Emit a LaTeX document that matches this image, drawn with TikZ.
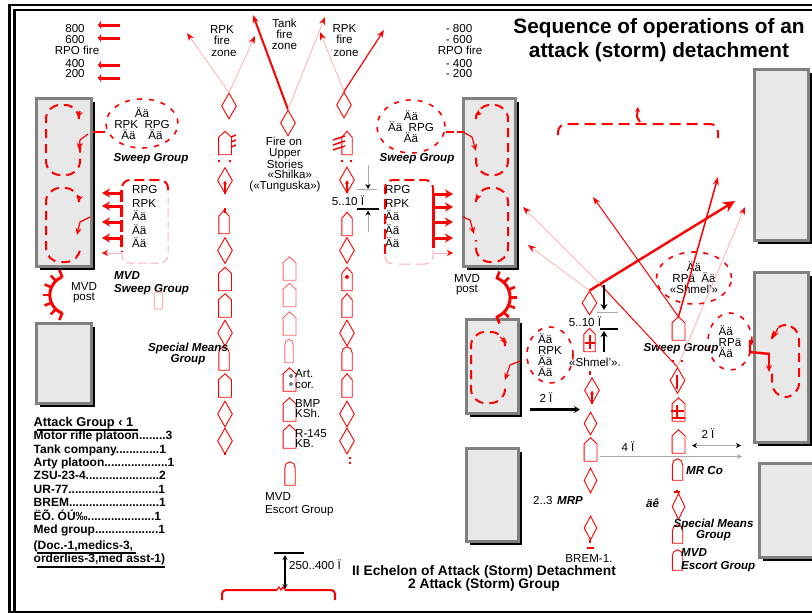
\documentclass[tikz,border=0pt]{standalone}
\usepackage{fontspec}
\setmainfont{Liberation Sans}
\usepackage{xcolor}
\usetikzlibrary{arrows.meta,shapes.geometric,positioning,shadows}
\definecolor{BldGray}{RGB}{232,232,232}
\definecolor{BldEdge}{RGB}{128,128,128}
\definecolor{PaleRed}{RGB}{255,176,176}
\definecolor{DimGray}{RGB}{170,170,170}
\begin{document}
\begin{tikzpicture}[x=1pt,y=-1pt,
    bld/.style={draw=BldEdge,fill=BldGray,line width=3pt,inner sep=0pt,
                drop shadow={fill=black,opacity=1,shadow xshift=3.5pt,shadow yshift=-3.5pt}},
    dmd/.style={diamond,draw=red,line width=0.9pt,inner sep=0pt,shape aspect=0.55,
                minimum width=15pt,minimum height=26pt},
    veh/.default=red,
    veh/.style={rectangle,inner sep=0pt,minimum width=12.5pt,minimum height=23pt,
                append after command={\pgfextra{\draw[draw=#1,line width=0.9pt,line join=miter]
                  (\tikzlastnode.south west) -- ([yshift=-6pt]\tikzlastnode.north west)
                  -- (\tikzlastnode.north) -- ([yshift=-6pt]\tikzlastnode.north east)
                  -- (\tikzlastnode.south east) -- cycle;}}},
    blunt/.default=red,
    blunt/.style={rectangle,inner sep=0pt,minimum width=10pt,minimum height=23pt,
                append after command={\pgfextra{\draw[draw=#1,line width=0.9pt]
                  (\tikzlastnode.south west) -- ([yshift=-6pt]\tikzlastnode.north west)
                  to[out=90,in=180] (\tikzlastnode.north) to[out=0,in=90] ([yshift=-6pt]\tikzlastnode.north east)
                  -- (\tikzlastnode.south east) -- cycle;}}},
    ovl/.style={ellipse,draw=red,line width=1.6pt,dash pattern=on 5pt off 7pt,inner sep=-4pt,align=center,
                font=\fontsize{11.6}{10.8}\selectfont},
    lbl/.style={font=\fontsize{11.6}{10.5}\selectfont,inner sep=0pt,align=center},
    lst/.style={lbl,align=left,anchor=west,font=\fontsize{12}{11}\selectfont\bfseries},
    grp/.style={lbl,font=\fontsize{11.6}{10.5}\selectfont\bfseries\itshape},
    lop/.style={draw=red,line width=2pt,dash pattern=on 9pt off 6pt,rounded corners=14pt},
    tip/.style={-{Stealth[length=7pt,width=6pt]},red,line width=1.2pt},
    tarr/.style={-{Latex[length=3pt,width=9pt]},red,line width=3pt},
    farr/.style={-{Stealth[length=8pt,width=9pt]},red,line width=3pt},
    fire/.style={-{Stealth[length=8pt,width=6pt]},red,line width=0.8pt},
    pfire/.style={-{Stealth[length=8pt,width=6pt,red]},PaleRed,line width=0.8pt},
    dim/.style={{Stealth[length=5pt,width=5pt,black]}-{Stealth[length=5pt,width=5pt,black]},DimGray,line width=0.8pt},
    bar/.style={black,line width=2.6pt},
    blk/.style={-{Stealth[length=6pt,width=7pt]},black,line width=2.4pt}
  ]
  \useasboundingbox (0,0) rectangle (812,613);
  % frame
  \draw[line width=2.2pt] (9.5,5) rectangle (840,612);
  \draw[line width=2.2pt] (14.5,10) rectangle (840,612);
  % buildings
  \node[bld,minimum width=55pt,minimum height=168pt] (bldA) at (64,182.5) {};
  \node[bld,minimum width=55pt,minimum height=80pt] (bldB) at (64,363.5) {};
  \node[bld,minimum width=52pt,minimum height=168pt] (bldC) at (489.5,182.5) {};
  \node[bld,minimum width=52pt,minimum height=94pt] (bldD) at (492.5,366.5) {};
  \node[bld,minimum width=52pt,minimum height=93pt] (bldE) at (492.5,495) {};
  \node[bld,minimum width=54pt,minimum height=171pt] (bldF) at (781.5,155) {};
  \node[bld,minimum width=54pt,minimum height=170pt] (bldG) at (781.5,357.5) {};
  \node[bld,minimum width=54pt,minimum height=94pt] (bldH) at (786.5,510.5) {};
  % title
  \node[font=\fontsize{20.8}{24}\selectfont\bfseries,align=center,inner sep=0pt] (title) at (659,40)
    {Sequence of operations of an\\attack (storm) detachment};
  % loops in the buildings
  \draw[lop] (79,118) -- (79,105) -- (46,105) -- (46,175) -- (80,175) -- (80,140);
  \draw[lop] (79,200) -- (79,188) -- (46,188) -- (46,262) -- (80,262) -- (80,245);
  \draw[lop] (476,116) -- (476,105) -- (508,105) -- (508,175) -- (476,175) -- (476,155);
  \draw[lop] (476,200) -- (476,188) -- (508,188) -- (508,262) -- (476,262) -- (476,240);
  \draw[lop] (505,345) -- (505,332) -- (471,332) -- (471,403) -- (505,403) -- (505,385);
  \draw[lop] (772,338) -- (772,325) -- (799,325) -- (799,397) -- (772,397) -- (772,372);
  \draw[tip] (80,111) -- (78,118);
  \draw[tip] (88,134) -- (80,140) -- (79,150);
  \draw[tip] (80,196) -- (78,202);
  \draw[tip] (90,217) -- (80,222) -- (77,235);
  \draw[tip] (480,112) -- (475,116);
  \draw[tip] (478,196) -- (476,201);
  \draw[tip] (463,217) -- (470,220) -- (474,234);
  \draw[tip] (500,337) -- (507,343);
  \draw[tip] (520,361) -- (510,365) -- (505,380);
  \draw[tip] (778,328) -- (773,338);
  \draw[tip] (769,355) -- (769,372);
  % sweep groups
  \node[ovl,minimum width=72pt,minimum height=49pt] (swpA) at (142,123.5) {Ää\\RPK\ \ RPG\\Ää\ \ \ \ Ää};
  \node[ovl,minimum width=68pt,minimum height=53pt] (swpB) at (411,126.5) {Ää\\Ää\ \ RPG\\Ää};
  \node[ovl,minimum width=46pt,minimum height=56pt,align=left] (swpC) at (550,355) {Ää\\RPK\\Ää\\Ää};
  \node[ovl,minimum width=75pt,minimum height=52pt] (swpD) at (694,278) {Ää\\RPä\ \ Ää\\«Shmel’»};
  \node[ovl,minimum width=44pt,minimum height=57pt,align=left] (swpE) at (730,341.5) {Ää\\RPä\\Ää};
  \draw[red,line width=2pt] (swpA.west |- 0,132) -- (bldA.east |- 0,132);
  \draw[red,line width=2pt,dash pattern=on 8pt off 3pt] (swpB.east |- 0,132) -- (463,132);
  \draw[tip] (463,132) -- (472,137) -- (476,151);
  \draw[red,line width=2.4pt] (750,340) -- (750,352) -- (770,354);
  % RPG boxes
  \node[lbl,align=left,anchor=north west,font=\fontsize{11.6}{13.5}\selectfont] (rpgA) at (132,185.5) {RPG\\RPK\\Ää\\Ää\\Ää};
  \node[lbl,align=left,anchor=north west,font=\fontsize{11.6}{13.5}\selectfont] (rpgB) at (385,185.5) {RPG\\RPK\\Ää\\Ää\\Ää};
  \draw[draw=red,line width=2pt,dash pattern=on 10pt off 5pt,rounded corners=8pt] (168,190) -- (168,180) -- (122,180) -- (122,252);
  \draw[draw=PaleRed,line width=1pt,dash pattern=on 8pt off 4pt,rounded corners=8pt] (122,252) -- (122,263) -- (168,263) -- (168,190);
  \draw[draw=red,line width=2pt,dash pattern=on 10pt off 5pt,rounded corners=8pt] (433,195) -- (433,180) -- (385,180) -- (385,256);
  \draw[draw=PaleRed,line width=1pt,dash pattern=on 12pt off 6pt,rounded corners=8pt] (385,256) -- (385,264) -- (433,264) -- (433,250);
  \draw[red,line width=3pt] (433,193) -- (433,248);
  \draw[red,line width=3pt,dash pattern=on 12pt off 3pt] (121,190) -- (121,250);
  \foreach \yy in {193,206,222,238} {\draw[farr] (121,\yy) -- (102,\yy);}
  \foreach \yy in {194,207,222,238} {\draw[farr] (433,\yy) -- (453,\yy);}
  \draw[-{Stealth[length=6pt,width=6pt,red]},PaleRed,line width=0.8pt] (121,253) -- (102,253);
  \draw[-{Stealth[length=6pt,width=6pt,red]},PaleRed,line width=0.8pt] (433,253) -- (453,253);
  % range marks
  \foreach \yy in {25,38,65,78} {\draw[tarr] (120,\yy) -- (98,\yy);}
  \node[lbl] (rngA) at (75,34) {800\\600};
  \node[lbl] (rngC) at (77,50.5) {RPO fire};
  \node[lbl] (rngD) at (75,68.5) {400\\200};
  \node[lbl] (rngF) at (459,34) {- 800\\- 600};
  \node[lbl] (rngH) at (460,50.5) {RPO fire};
  \node[lbl] (rngI) at (459,68.5) {- 400\\- 200};
  % first column
  \node[dmd] (ca) at (229,106) {};
  \node[veh] (cb) at (225,143) {};
  \node[dmd] (cc) at (225,180.5) {};
  \node[veh,minimum width=10pt] (cd) at (224,222) {};
  \node[dmd] (ce) at (225,250.5) {};
  \node[veh] (cf) at (225,279) {};
  \node[veh] (cg) at (225,305.5) {};
  \node[dmd] (ch) at (225,333) {};
  \node[blunt] (ci) at (224,358.5) {};
  \node[veh] (cj) at (225,385.5) {};
  \node[dmd] (ck) at (225,414) {};
  \node[dmd] (cl) at (225,441) {};
  \draw[red,line width=1.5pt] (231,137) -- (236,135) (231,142) -- (236,140) (231,147) -- (236,145);
  \draw[-{Stealth[length=4pt,width=4pt]},red,line width=2pt] (cc.south) -- (cc.center);
  \draw[red,line width=2pt] (219,160) -- (219,162) (230,160) -- (230,162) (225,208) -- (225,213) (225,452) -- (225,455);
  % middle column
  \node[dmd] (ma) at (288,123) {};
  \node[veh=red!60] (mb) at (289.5,268.5) {};
  \node[veh=red!60] (mc) at (289.5,295) {};
  \node[veh=red!60] (md) at (289.5,323.5) {};
  \node[blunt=red!60,minimum width=8pt] (me) at (289,351) {};
  \node[veh] (mf) at (289.5,379.5) {};
  \node[veh] (mg) at (289.5,409.5) {};
  \node[veh] (mh) at (289.5,436.5) {};
  \node[blunt] (mi) at (290,473.5) {};
  \draw[black,thin] (291,376) circle (1.5) (291,384) circle (1.5);
  % third column
  \node[dmd] (ra) at (344,105) {};
  \node[veh,minimum width=10pt] (rb) at (347,143) {};
  \node[dmd] (rc) at (347,180) {};
  \node[veh,minimum width=10pt] (rd) at (347,224) {};
  \node[dmd] (re) at (347,250.5) {};
  \node[veh,minimum width=10pt] (rf) at (347,279) {};
  \node[veh,minimum width=10pt] (rg) at (347,305.5) {};
  \node[dmd] (rh) at (347,333) {};
  \node[blunt] (ri) at (347,358.5) {};
  \node[veh,minimum width=10pt] (rj) at (347,385.5) {};
  \node[dmd] (rk) at (347,414) {};
  \node[dmd] (rl) at (347,441) {};
  \draw[red,line width=1.5pt] (333,140) -- (345,136) (333,145) -- (345,141) (333,150) -- (345,146);
  \draw[-{Stealth[length=4pt,width=4pt]},red,line width=2pt] (rc.south) -- (rc.center);
  \draw[red,line width=2pt] (342,160) -- (342,162) (351,160) -- (351,162) (350,457) -- (350,459) (350,462) -- (350,464);
  \fill[red] (347,277) circle (2);
  % fire zones
  \draw[pfire] (ca.north) -- (187,33);
  \draw[pfire] (ca.north) -- (255,36);
  \draw[fire,line width=2pt] (ma.north) -- (253,15);
  \draw[pfire] (ma.north) -- (325,17);
  \draw[pfire] (ra.north) -- (320,32);
  \draw[fire,line width=1.2pt] (ra.north) -- (384,30);
  \node[lbl] (fza) at (222,35) {RPK\\fire};
  \node[lbl] (fzc) at (224,53) {zone};
  \node[lbl,font=\fontsize{11.6}{11}\selectfont] (fzd) at (284.5,34) {Tank\\fire\\zone};
  \node[lbl] (fzg) at (344.5,34) {RPK\\fire};
  \node[lbl] (fzi) at (346,53) {zone};
  \node[lbl] (shka) at (284,141) {Fire on};
  \node[lbl] (shkd) at (285,170) {Upper\\Stories\\\ \ \ «Shilka»\\(«Tunguska»)};
  % groups on the left
  \node[grp] (gra) at (151,159) {Sweep Group};
  \node[grp] (grb) at (417,159) {Sweep Group};
  \node[grp,anchor=west,font=\fontsize{11.6}{13}\selectfont\bfseries\itshape,align=left] (grc) at (114,283.5) {MVD\\Sweep Group};
  \node[grp] (gre) at (188,354) {Special Means\\Group};
  \node[draw=PaleRed,line width=1pt,inner sep=0pt,minimum width=8pt,minimum height=17pt,rounded corners=1pt] (smbx) at (158.5,300.5) {};
  % posts
  \draw[red,line width=3pt] (62,277) arc[start angle=248,end angle=112,radius=19.5];
  \foreach \aa in {112,134,157,180,203,226,248} {\draw[red,line width=2.6pt] (69.5,295) ++(\aa:19pt) -- ++(\aa:8pt);}
  \draw[red,line width=3pt] (497,278) arc[start angle=-68,end angle=68,radius=21];
  \foreach \aa in {68,45,22,0,-22,-45,-68} {\draw[red,line width=2.6pt] (489,297.5) ++(\aa:20pt) -- ++(\aa:8pt);}
  \node[lbl] (psa) at (84,292.5) {MVD\\post};
  \node[lbl] (psc) at (467,284.5) {MVD\\post};
  % vehicle labels
  \node[lbl,anchor=west,align=left] (vla) at (295,379) {Art.\\cor.};
  \node[lbl,anchor=west,align=left] (vlc) at (295,408.5) {BMP\\KSh.};
  \node[lbl,anchor=west,align=left] (vle) at (295,438.5) {R-145\\KB.};
  \node[lbl,anchor=west,align=left,font=\fontsize{11.6}{13}\selectfont] (vlg) at (265,504.5) {MVD\\Escort Group};
  % left distance mark
  \node[lbl] (dsa) at (348,201) {5..10 Ï};
  \draw[-{Stealth[length=5pt,width=5pt,black]},DimGray,line width=0.6pt] (368,165) -- (368,189);
  \draw[DimGray,line width=0.6pt] (357,189.5) -- (377,189.5);
  \draw[bar] (357,209) -- (379,209);
  \draw[-{Stealth[length=5pt,width=5pt,black]},DimGray,line width=0.6pt] (368,232) -- (368,210.5);
  % list
  \node[lst,font=\fontsize{12.8}{12}\selectfont\bfseries] (lsa) at (33.5,423) {Attack Group ‹ 1};
  \node[lst,font=\fontsize{12}{13.4}\selectfont\bfseries] (lsb) at (33.5,483.5)
    {Motor rifle platoon........3\\Tank company.............1\\Arty platoon...................1\\ZSU-23-4......................2\\UR-77...........................1\\BREM...........................1\\ËÕ. ÓÚ‰....................1\\Med group...................1};
  \node[lst,font=\fontsize{12}{13}\selectfont\bfseries] (lsj) at (33.5,552.5) {(Doc.-1,medics-3,\\orderlies-3,med asst-1)};
  \draw[line width=1.6pt] (37,430) -- (138,430) (37,553) -- (136,553) (37,567) -- (165,567);
  % rear bracket
  \draw[red,line width=2pt,rounded corners=4pt] (222,600) -- (222,590) -- (277,590);
  \draw[red,line width=2pt,rounded corners=4pt] (285,590) -- (335,590) -- (335,600);
  \draw[red,line width=1.2pt] (277,590) -- (279,587) -- (281,590) -- (283,587) -- (285,590);
  \draw[bar] (274,553) -- (304,553);
  \draw[{Stealth[length=5pt,width=5pt]}-{Stealth[length=5pt,width=5pt]},black,line width=1.6pt] (285,555) -- (285,589);
  \node[lbl,anchor=west] (dsb) at (289,565) {250..400 Ï};
  \node[lbl,font=\fontsize{13.8}{13}\selectfont\bfseries] (ech) at (484,578.5) {II Echelon of Attack (Storm) Detachment\\2 Attack (Storm) Group};
  % MRP column
  \node[dmd,minimum height=24pt] (pa) at (589.5,303) {};
  \node[veh,minimum width=11pt] (pb) at (589.5,340) {};
  \node[dmd] (pc) at (592,390.5) {};
  \node[dmd,minimum width=13pt,minimum height=23pt] (pd) at (590.5,423.5) {};
  \node[veh] (pe) at (590.5,449.5) {};
  \node[dmd,minimum width=13pt,minimum height=25pt] (pf) at (590.5,480.5) {};
  \node[dmd,minimum width=13pt,minimum height=24pt] (pg) at (590.5,528) {};
  \draw[red,line width=2pt] (590,335) -- (590,349) (585,343) -- (595,343) (590,371) -- (590,375) (590,540) -- (590,543) (587,548) -- (594,548);
  \draw[-{Stealth[length=4pt,width=4pt]},red,line width=2pt] (pc.south) -- (pc.center);
  \node[lbl] (mra) at (595,362) {«Shmel’».};
  \node[lbl] (mrb) at (589,559) {BREM-1.};
  \node[lbl,anchor=west] (mrc) at (533,501) {2..3};
  \node[grp,anchor=west] (mrd) at (557,501) {MRP};
  % right column
  \node[veh] (qa) at (678.5,328.5) {};
  \node[dmd] (qb) at (677.5,380.5) {};
  \node[veh] (qc) at (678.5,409.5) {};
  \node[veh] (qd) at (678.5,441.5) {};
  \node[blunt,minimum height=21pt] (qe) at (677.5,469.5) {};
  \node[dmd,minimum width=13pt] (qf) at (678.5,506.5) {};
  \node[blunt,minimum height=18pt] (qg) at (677.5,534) {};
  \node[blunt,minimum height=20pt] (qh) at (677.5,560) {};
  \draw[red,line width=2pt] (677,375) -- (677,389) (671,411) -- (684,411) (677,405) -- (677,418) (672,418) -- (685,418) (677,490) -- (677,493) (674,492) -- (680,492) (672,361) -- (674,361) (681,361) -- (683,361);
  \node[grp,anchor=west] (qla) at (686,471) {MR Co};
  \node[grp,anchor=west] (qlb) at (646,503) {äê};
  \node[grp] (qlc) at (713.5,530) {Special Means\\Group};
  \node[grp,anchor=west,align=left,font=\fontsize{11.6}{13}\selectfont\bfseries\itshape] (qle) at (681,560.5) {MVD\\Escort Group};
  \node[grp] (qlg) at (681,349) {Sweep Group};
  % attack arrows on the right
  \draw[fire,line width=2.4pt,-{Stealth[length=12pt,width=11pt]}] (pa.north) -- (735,201);
  \draw[pfire] (pa.north) -- (528,245);
  \draw[pfire] (600,284) -- (523,207);
  \draw[red,line width=1pt] (qb.north) -- (600,284);
  \draw[fire,line width=1pt] (qa.north) -- (593,197);
  \draw[fire,line width=1.5pt] (qa.north) -- (718,177);
  \draw[pfire] (qb.north) -- (745,207);
  % dashed front line above
  \draw[red,line width=2pt,dash pattern=on 11pt off 6pt,rounded corners=8pt] (558,135) -- (558,124) -- (718,124) -- (718,138);
  \draw[-{Stealth[length=5pt,width=5pt]},red,line width=2pt] (640,122) -- (637,117) -- (638,107);
  % right distance marks
  \node[lbl] (dsc) at (585,322) {5..10 Ï};
  \draw[blk] (604,285) -- (604,310);
  \draw[DimGray,line width=0.6pt] (597,312.5) -- (618,312.5);
  \draw[bar] (600,329) -- (618,329);
  \draw[blk] (604,352) -- (604,331);
  \node[lbl] (dsd) at (546,398) {2 Ï};
  \draw[blk] (530,409.5) -- (580,409.5);
  \node[lbl] (dse) at (628,447) {4 Ï};
  \draw[-{Stealth[length=5pt,width=5pt]},DimGray,line width=0.8pt] (600,456.5) -- (742,456.5);
  \node[lbl] (dsf) at (708,434) {2 Ï};
  \draw[dim] (692,445.5) -- (741,445.5);
\end{tikzpicture}
\end{document}
